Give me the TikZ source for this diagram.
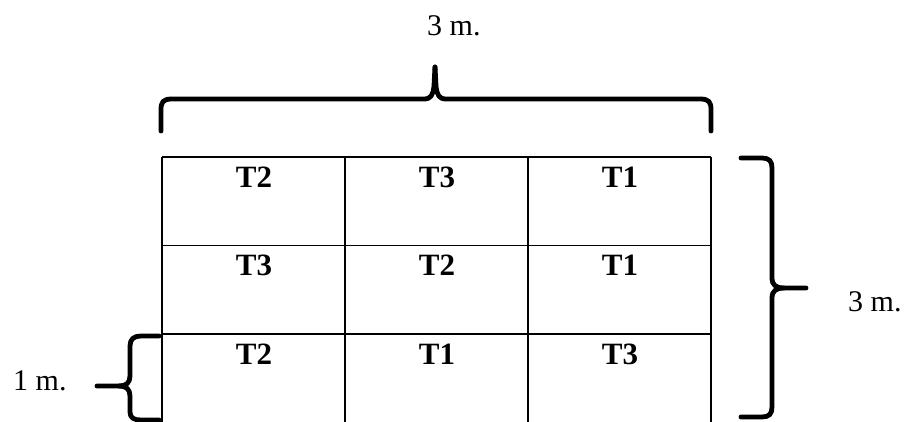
\documentclass[tikz,border=0pt]{standalone}
\usepackage{fontspec}
\setmainfont{Liberation Serif}
\begin{document}
\begin{tikzpicture}[x=1pt,y=-1pt,
  gridline/.style={line width=1.8pt},
  bracepath/.style={line width=4.8pt,line cap=round,line join=round},
  cell/.style={font=\fontsize{31}{36}\selectfont\bfseries,inner sep=0pt,anchor=base},
  dim/.style={font=\fontsize{30}{36}\selectfont,inner sep=0pt,anchor=base west}]
\useasboundingbox (0,0) rectangle (905,421);
% grid
\foreach \y in {157,245.5,334} \draw[gridline] (162,\y) -- (711,\y);
\foreach \x in {162,345,528,711} \draw[gridline] (\x,157) -- (\x,425);
% labels
\node[cell] (c11) at (254,187) {T2};
\node[cell] (c12) at (437,187) {T3};
\node[cell] (c13) at (620,187) {T1};
\node[cell] (c21) at (254,275.5) {T3};
\node[cell] (c22) at (437,275.5) {T2};
\node[cell] (c23) at (620,275.5) {T1};
\node[cell] (c31) at (254,364) {T2};
\node[cell] (c32) at (437,364) {T1};
\node[cell] (c33) at (620,364) {T3};
% top brace
\draw[bracepath] (161,131) -- (161,110) .. controls (161,102) and (163,99) .. (172,99)
  -- (424,99) .. controls (431,99) and (433,95) .. (434,86) -- (435,67);
\draw[bracepath] (435,67) -- (436,86) .. controls (437,95) and (439,99) .. (446,99)
  -- (700,99) .. controls (709,99) and (711,102) .. (711,110) -- (711,131);
\node[dim] (top) at (427,35) {3 m.};
% right brace
\draw[bracepath] (741,158) -- (762,158) .. controls (769,158) and (772,161) .. (772,168)
  -- (772,278) .. controls (772,285) and (776,288) .. (784,288) -- (806,288);
\draw[bracepath] (784,288) .. controls (776,288) and (772,291) .. (772,298)
  -- (772,407) .. controls (772,414) and (769,417) .. (762,417) -- (741,417);
\node[dim] (right) at (848,311) {3 m.};
% left brace
\draw[bracepath] (159,336) -- (141,336) .. controls (134,336) and (130,339) .. (130,346)
  -- (130,376) .. controls (130,383) and (126,386) .. (119,386) -- (97,386);
\draw[bracepath] (119,386) .. controls (126,386) and (130,389) .. (130,396)
  -- (130,412) .. controls (130,418) and (134,420) .. (141,420) -- (159,420);
\node[dim] (left) at (13,390) {1 m.};
\end{tikzpicture}
\end{document}
